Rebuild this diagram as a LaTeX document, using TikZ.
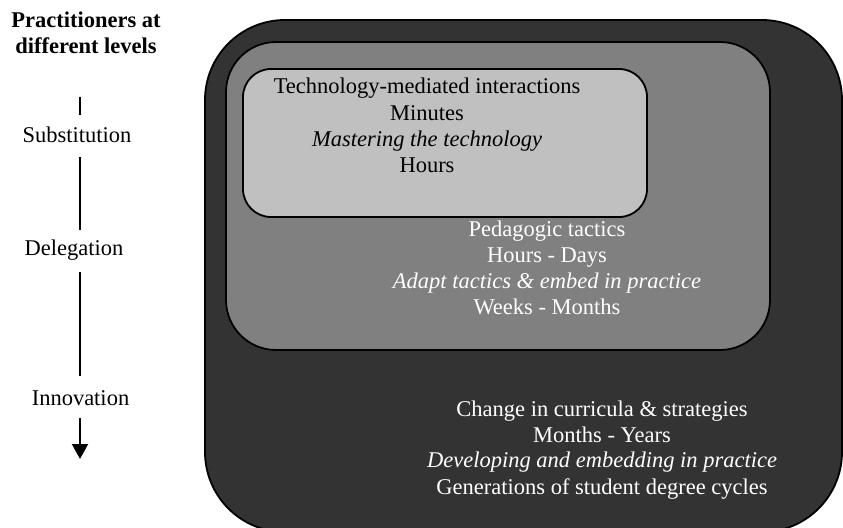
\documentclass[tikz,border=0pt]{standalone}
\usepackage{fontspec}
\setmainfont{Liberation Serif}
\usetikzlibrary{arrows.meta}
\definecolor{outerfill}{HTML}{333333}
\definecolor{midfill}{HTML}{808080}
\definecolor{innerfill}{HTML}{C0C0C0}
\begin{document}
\begin{tikzpicture}[x=1bp,y=-1bp,
  panel/.style={draw=black,line width=1.8bp},
  txt/.style={anchor=base,inner sep=0pt,font=\fontsize{22.5bp}{26.5bp}\selectfont},
  lighttxt/.style={txt,text=white},
  lbl/.style={txt,text height=16bp,text depth=5bp},
  axisline/.style={line width=2bp},
]
\useasboundingbox (0,0) rectangle (843,528);
\fill[white] (0,0) rectangle (843,528);

% nested time-scale panels
\path[panel,fill=outerfill,rounded corners=80bp] (205,20) rectangle (842,532);
\path[panel,fill=midfill,rounded corners=50bp] (226,42) rectangle (770,350);
\path[panel,fill=innerfill,rounded corners=28bp] (243,69) rectangle (647,217);

% innermost panel
\node[txt] (t1) at (427,94) {Technology-mediated interactions};
\node[txt] (t2) at (427,121) {Minutes};
\node[txt] (t3) at (427,147) {\itshape Mastering the technology};
\node[txt] (t4) at (427,173) {Hours};

% middle panel
\node[lighttxt] (p1) at (547,237) {Pedagogic tactics};
\node[lighttxt] (p2) at (547,263) {Hours - Days};
\node[lighttxt] (p3) at (547,289) {\itshape Adapt tactics \& embed in practice};
\node[lighttxt] (p4) at (547,315) {Weeks - Months};

% outer panel
\node[lighttxt] (c1) at (602,416) {Change in curricula \& strategies};
\node[lighttxt] (c2) at (602,442) {Months - Years};
\node[lighttxt] (c3) at (602,467) {\itshape Developing and embedding in practice};
\node[lighttxt] (c4) at (602,494) {Generations of student degree cycles};

% level axis
\node[txt,font=\fontsize{22.5bp}{26.5bp}\selectfont\bfseries] (h1) at (86,28) {Practitioners at};
\node[txt,font=\fontsize{22.5bp}{26.5bp}\selectfont\bfseries] (h2) at (86,54) {different levels};

\node[lbl] (sub) at (77,143) {Substitution};
\node[lbl] (del) at (74,256) {Delegation};
\node[lbl] (inn) at (80.5,405) {Innovation};

\coordinate (axtop) at (80,97);
\coordinate (axend) at (80,459);

\draw[axisline] (axtop) -- (axtop |- sub.north) [shorten >=12bp];
\draw[axisline,shorten <=9bp,shorten >=10bp] (axtop |- sub.south) -- (axtop |- del.north);
\draw[axisline,shorten <=11bp,shorten >=13bp] (axtop |- del.south) -- (axtop |- inn.north);
\draw[axisline,shorten <=8bp,-{Triangle[width=16bp,length=15bp]}] (axtop |- inn.south) -- (axend);
\end{tikzpicture}
\end{document}
